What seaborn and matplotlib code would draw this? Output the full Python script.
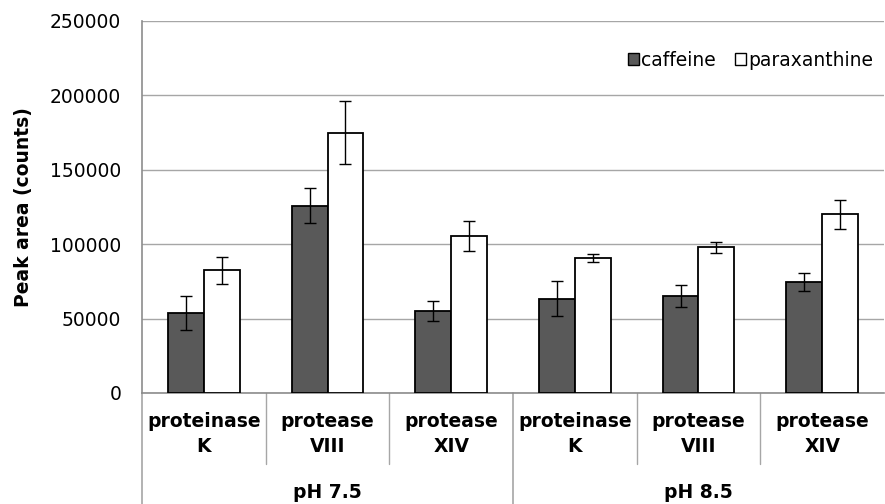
import pandas as pd
import matplotlib
matplotlib.use('Agg')
import matplotlib.pyplot as plt
import matplotlib.transforms as mtransforms
from matplotlib.patches import Patch
import seaborn as sns

# Daten
enzymes = ['proteinase\nK', 'protease\nVIII', 'protease\nXIV',
           'proteinase\nK', 'protease\nVIII', 'protease\nXIV']
ph_groups = ['pH 7.5', 'pH 8.5']
caffeine = [54000, 126000, 55000, 63500, 65000, 74500]
caffeine_err = [11500, 11500, 6800, 12000, 7400, 6000]
paraxanthine = [82500, 175000, 105500, 91000, 98000, 120000]
paraxanthine_err = [9200, 21000, 10000, 2700, 3700, 10000]
y_ticks = [0, 50000, 100000, 150000, 200000, 250000]

sns.set_theme(style="white")
plt.rcParams.update({
    'font.family': ['DejaVu Sans'],
    'font.size': 13.5,
    'text.color': 'black',
    'axes.labelcolor': 'black',
    'xtick.color': 'black',
    'ytick.color': 'black',
})
FS = 13.5

cats = [f'{i}' for i in range(len(enzymes))]
df = pd.DataFrame({
    'cat': cats * 2,
    'compound': ['caffeine'] * 6 + ['paraxanthine'] * 6,
    'value': caffeine + paraxanthine,
    'err': caffeine_err + paraxanthine_err,
})

fig = plt.figure(figsize=(8.85, 5.04), dpi=100)
ax = fig.add_axes([142 / 885, 1 - 393 / 504, 742 / 885, 372 / 504])

colors = {'caffeine': '#595959', 'paraxanthine': '#ffffff'}
sns.barplot(data=df, x='cat', y='value', hue='compound', palette=colors,
            width=0.58, gap=0, errorbar=None, edgecolor='black',
            linewidth=1.3, legend=False, ax=ax, zorder=3)

# Fehlerbalken an die Balken der Library setzen
lookup = dict(zip(df['value'], df['err']))
for p in ax.patches:
    h = p.get_height()
    if h <= 0:
        continue
    xc = p.get_x() + p.get_width() / 2
    ax.errorbar(xc, h, yerr=lookup.get(h, 0), fmt='none', ecolor='black',
                elinewidth=1.0, capsize=4, capthick=1.0, zorder=4)

ax.set_xlim(-0.5, 5.5)
ax.set_ylim(0, 250000)
ax.set_yticks(y_ticks)
ax.set_yticklabels([str(t) for t in y_ticks], fontsize=FS)
ax.yaxis.grid(True, color='#a6a6a6', linewidth=1.0, zorder=0)
ax.set_axisbelow(True)
for s in ['top', 'right']:
    ax.spines[s].set_visible(False)
for s in ['left', 'bottom']:
    ax.spines[s].set_color('#8c8c8c')
    ax.spines[s].set_linewidth(1.2)
ax.tick_params(axis='y', length=0, pad=15)
ax.tick_params(axis='x', length=0, pad=14)
ax.set_xticks(range(len(enzymes)))
ax.set_xticklabels(enzymes, fontsize=FS, fontweight='bold', linespacing=1.4)
ax.set_xlabel('')
ax.set_ylabel('Peak area (counts)', fontsize=FS, fontweight='bold', labelpad=12)

# Mehrstufige Kategorieachse im Excel-Stil
trans = mtransforms.blended_transform_factory(ax.transData, ax.transAxes)
row1 = -(464 - 393) / 372
bottom = -(504 - 393) / 372
for x in [0.5, 1.5, 3.5, 4.5]:
    ax.plot([x, x], [0, row1], transform=trans, color='#a6a6a6',
            linewidth=1.0, clip_on=False)
for x in [-0.5, 2.5]:
    ax.plot([x, x], [0, bottom], transform=trans, color='#a6a6a6',
            linewidth=1.2, clip_on=False)
for i, lab in enumerate(ph_groups):
    ax.text(1 + 3 * i, -(492 - 393) / 372, lab, transform=trans,
            ha='center', va='center', fontsize=FS, fontweight='bold')

handles = [Patch(facecolor=colors[k], edgecolor='black', linewidth=1.0, label=k)
           for k in ['caffeine', 'paraxanthine']]
ax.legend(handles=handles, loc='upper right', bbox_to_anchor=(1.0, 0.95),
          ncol=2, frameon=False, fontsize=FS, handlelength=0.6,
          handleheight=0.6, handletextpad=0.1, columnspacing=1.0,
          borderaxespad=0.2)

fig.savefig('out.png', dpi=100)
